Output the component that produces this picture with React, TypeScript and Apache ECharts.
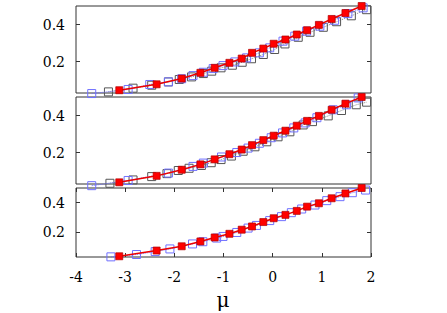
import React, { useEffect, useRef } from "react";
import * as echarts from "echarts";

const xTicks = [-4, -3, -2, -1, 0, 1, 2];
const yTicks = [0.2, 0.4];

const redX = [-3.12, -2.36, -1.85, -1.47, -1.18, -0.88, -0.63, -0.42, -0.19, 0.02, 0.26, 0.49, 0.7, 0.94, 1.2, 1.48, 1.81];
const red1Y = [0.045, 0.077, 0.108, 0.139, 0.166, 0.193, 0.216, 0.247, 0.27, 0.296, 0.319, 0.346, 0.369, 0.398, 0.43, 0.462, 0.5];
const red2Y = [0.039, 0.074, 0.107, 0.136, 0.163, 0.191, 0.216, 0.24, 0.267, 0.291, 0.318, 0.345, 0.371, 0.398, 0.431, 0.464, 0.5];
const red3Y = [0.035, 0.074, 0.103, 0.136, 0.163, 0.188, 0.216, 0.238, 0.268, 0.294, 0.317, 0.344, 0.373, 0.396, 0.43, 0.463, 0.5];

const gray1X = [-3.34, -2.84, -2.46, -2.12, -1.9, -1.65, -1.41, -1.24, -1.05, -0.82, -0.62, -0.43, -0.19, 0.04, 0.25, 0.52, 0.76, 1.03, 1.3, 1.6, 1.91];
const gray1Y = [0.036, 0.056, 0.072, 0.09, 0.103, 0.117, 0.135, 0.148, 0.166, 0.18, 0.196, 0.215, 0.238, 0.265, 0.295, 0.331, 0.358, 0.385, 0.415, 0.447, 0.48];
const blue1X = [-3.68, -2.94, -2.5, -2.12, -1.85, -1.62, -1.41, -1.21, -1.01, -0.77, -0.53, -0.27, -0.06, 0.21, 0.45, 0.69, 0.96, 1.26, 1.53, 1.84];
const blue1Y = [0.027, 0.049, 0.076, 0.09, 0.107, 0.124, 0.142, 0.162, 0.178, 0.198, 0.22, 0.247, 0.274, 0.31, 0.337, 0.364, 0.391, 0.423, 0.459, 0.49];

const gray2X = [-3.31, -2.84, -2.46, -2.15, -1.92, -1.7, -1.45, -1.25, -1.05, -0.84, -0.6, -0.36, -0.12, 0.11, 0.35, 0.62, 0.81, 1.13, 1.4, 1.7, 1.91];
const gray2Y = [0.034, 0.052, 0.07, 0.086, 0.103, 0.115, 0.13, 0.145, 0.162, 0.181, 0.207, 0.231, 0.258, 0.285, 0.312, 0.349, 0.367, 0.398, 0.427, 0.458, 0.472];
const blue2X = [-3.68, -2.94, -2.12, -1.62, -1.41, -1.04, -0.73, -0.5, -0.27, -0.03, 0.2, 0.43, 0.66, 0.9, 1.23, 1.5, 1.74];
const blue2Y = [0.021, 0.049, 0.089, 0.125, 0.143, 0.176, 0.2, 0.224, 0.25, 0.28, 0.306, 0.333, 0.36, 0.388, 0.431, 0.458, 0.495];

const blue3X = [-3.29, -2.77, -2.39, -2.09, -1.63, -1.42, -1.14, -1.01, -0.73, -0.5, -0.33, -0.06, 0.18, 0.38, 0.59, 0.86, 1.1, 1.37, 1.62, 1.89];
const blue3Y = [0.031, 0.047, 0.067, 0.085, 0.119, 0.134, 0.159, 0.17, 0.197, 0.227, 0.245, 0.278, 0.305, 0.332, 0.357, 0.384, 0.414, 0.441, 0.468, 0.486];

const zip = (xs: number[], ys: number[]) => xs.map((x, i) => [x, ys[i]]);

const FONT = "DejaVu Serif";

export default function App() {
  const ref = useRef<HTMLDivElement>(null);
  useEffect(() => {
    if (!ref.current) return;
    const chart = echarts.init(ref.current, undefined, { renderer: "svg" });
    const grids = [
      { left: 76, right: 76, top: 6, height: 87 },
      { left: 76, right: 76, top: 97, height: 87 },
      { left: 76, right: 76, top: 188, height: 69 },
    ].map((g) => ({ ...g, show: true, borderColor: "#333", borderWidth: 1, backgroundColor: "#fff" }));

    const xAxes: any[] = [];
    const yAxes: any[] = [];
    for (let i = 0; i < 3; i++) {
      const showTicks = i === 2;
      xAxes.push({
        type: "value", gridIndex: i, position: "bottom", min: -4, max: 2, interval: 1,
        axisLine: { show: false, onZero: false }, splitLine: { show: false },
        axisTick: { show: showTicks, inside: true, length: 4, lineStyle: { color: "#333" } },
        axisLabel: { show: i === 2, fontFamily: FONT, fontSize: 14, color: "#000", margin: 13,
          customValues: xTicks },
      });
      xAxes.push({
        type: "value", gridIndex: i, position: "top", min: -4, max: 2, interval: 1,
        axisLine: { show: false, onZero: false }, splitLine: { show: false },
        axisTick: { show: showTicks, inside: true, length: 4, lineStyle: { color: "#333" } },
        axisLabel: { show: false },
      });
      yAxes.push({
        type: "value", gridIndex: i, position: "left", min: 0.03, max: 0.5,
        axisLine: { show: false, onZero: false }, splitLine: { show: false },
        axisTick: { show: true, inside: true, length: 4, customValues: yTicks, lineStyle: { color: "#333" } },
        axisLabel: { show: true, customValues: yTicks, fontFamily: FONT, fontSize: 14, color: "#000", margin: 11,
          formatter: (v: number) => v.toFixed(1) },
      });
      yAxes.push({
        type: "value", gridIndex: i, position: "right", min: 0.03, max: 0.5,
        axisLine: { show: false, onZero: false }, splitLine: { show: false },
        axisTick: { show: true, inside: true, length: 4, customValues: yTicks, lineStyle: { color: "#333" } },
        axisLabel: { show: false },
      });
    }

    const gray = (d: number[][], i: number) => ({
      type: "line", xAxisIndex: i * 2, yAxisIndex: i * 2, data: d, symbol: "rect", symbolSize: 8,
      clip: false,
      lineStyle: { color: "#888", width: 1, type: "dotted" },
      itemStyle: { color: "rgba(255,255,255,0)", borderColor: "#555", borderWidth: 1 },
      z: 2,
    });
    const blue = (d: number[][], i: number) => ({
      type: "line", xAxisIndex: i * 2, yAxisIndex: i * 2, data: d, symbol: "rect", symbolSize: 8,
      clip: false,
      lineStyle: { color: "#6a6aff", width: 1, type: "dotted" },
      itemStyle: { color: "rgba(255,255,255,0)", borderColor: "#7070ff", borderWidth: 1 },
      z: 3,
    });
    const red = (d: number[][], i: number) => ({
      type: "line", xAxisIndex: i * 2, yAxisIndex: i * 2, data: d, symbol: "rect", symbolSize: 7,
      clip: false,
      lineStyle: { color: "#ee0000", width: 1.5 },
      itemStyle: { color: "#ff0000", borderColor: "#b00000", borderWidth: 0.7 },
      z: 4,
    });

    chart.setOption({
      animation: false,
      textStyle: { fontFamily: FONT },
      grid: grids,
      xAxis: xAxes,
      yAxis: yAxes,
      series: [
        gray(zip(gray1X, gray1Y), 0), blue(zip(blue1X, blue1Y), 0), red(zip(redX, red1Y), 0),
        gray(zip(gray2X, gray2Y), 1), blue(zip(blue2X, blue2Y), 1), red(zip(redX, red2Y), 1),
        blue(zip(blue3X, blue3Y), 2), red(zip(redX, red3Y), 2),
      ],
      graphic: [
        { type: "text", x: 223, y: 300, style: { text: "μ", fontFamily: FONT, fontSize: 20, fill: "#000",
          textAlign: "center", textVerticalAlign: "middle" } },
      ],
    });
    return () => chart.dispose();
  }, []);
  return <div ref={ref} style={{ width: 447, height: 313, position: "absolute", left: 0, top: 0 }} />;
}
